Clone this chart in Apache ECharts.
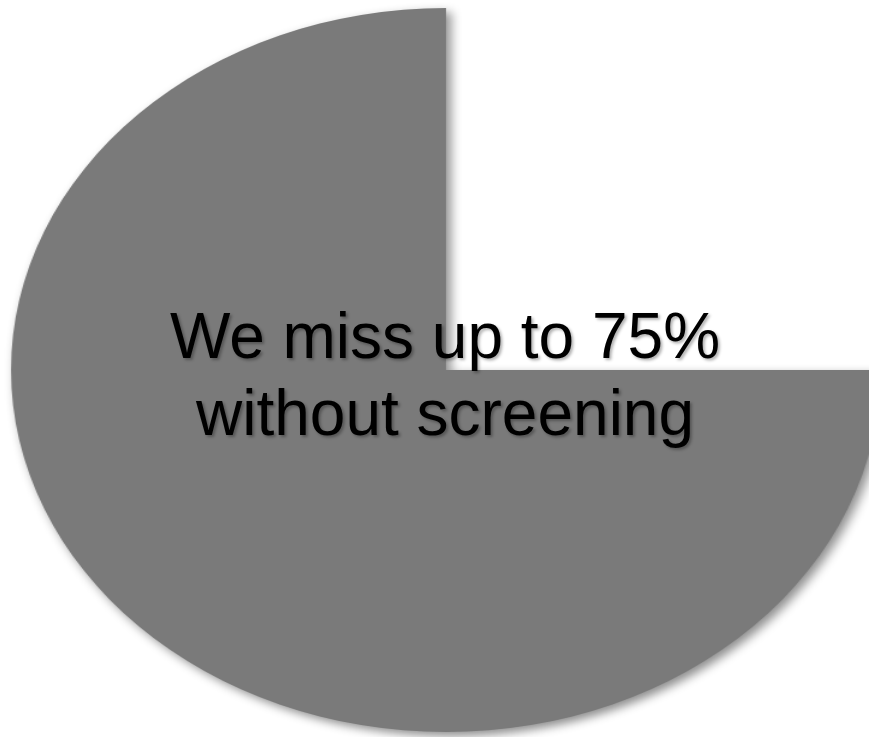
<!DOCTYPE html>
<html>
<head>
<meta charset="utf-8">
<script src="https://cdn.jsdelivr.net/npm/echarts@6/dist/echarts.min.js"></script>
<style>
html,body{margin:0;padding:0;background:#fff;}
#wrap{position:relative;width:869px;height:737px;overflow:hidden;}
#pie{position:absolute;left:0;top:0;width:869px;height:737px;transform-origin:446px 370px;transform:scaleX(1.2017);}
#txt{position:absolute;left:0;top:0;width:869px;height:737px;}
</style>
</head>
<body>
<div id="wrap"><div id="pie"></div><div id="txt"></div></div>
<script>
const categories = ['Missed without screening', 'Other'];
const values = [75, 25];
const caption = ['We miss up to 75%', 'without screening'];

const pie = echarts.init(document.getElementById('pie'), null, {renderer: 'canvas'});
pie.setOption({
  animation: false,
  series: [{
    type: 'pie',
    center: [446, 370],
    radius: [0, 362],
    startAngle: 0,
    clockwise: true,
    silent: true,
    label: {show: false},
    labelLine: {show: false},
    data: categories.map((c, i) => ({
      name: c,
      value: values[i],
      itemStyle: i === 0 ? {
        color: '#7a7a7a',
        shadowColor: 'rgba(0,0,0,0.45)',
        shadowBlur: 10,
        shadowOffsetX: 4,
        shadowOffsetY: 4
      } : {color: 'rgba(0,0,0,0)'}
    }))
  }]
});

const txt = echarts.init(document.getElementById('txt'), null, {renderer: 'canvas'});
txt.setOption({
  animation: false,
  graphic: [{
    type: 'text',
    x: 445,
    y: 379,
    style: {
      text: caption.join('\n'),
      font: 'normal 64px "Liberation Sans", Arial, sans-serif',
      lineHeight: 77,
      fill: '#000',
      textAlign: 'center',
      textVerticalAlign: 'middle',
      textShadowColor: 'rgba(0,0,0,0.3)',
      textShadowBlur: 3,
      textShadowOffsetX: 2,
      textShadowOffsetY: 2
    }
  }]
});
</script>
</body>
</html>
